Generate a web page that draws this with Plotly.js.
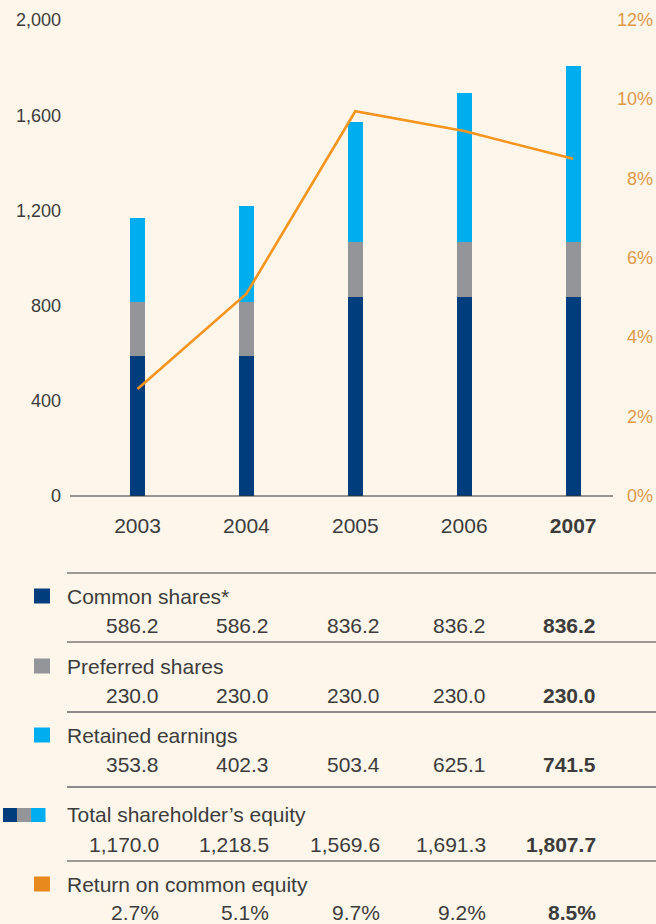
<!DOCTYPE html>
<html>
<head>
<meta charset="utf-8">
<script src="https://cdn.plot.ly/plotly-3.0.1.min.js"></script>
<style>
html,body{margin:0;padding:0;background:#fef6ea;}
#chart{width:656px;height:924px;}
</style>
</head>
<body>
<div id="chart"></div>
<script>
// ---- data ----
var years = ['2003', '2004', '2005', '2006', '2007'];
var boldYear = '2007';
var commonShares = [586.2, 586.2, 836.2, 836.2, 836.2];
var preferredShares = [230.0, 230.0, 230.0, 230.0, 230.0];
var retainedEarnings = [353.8, 402.3, 503.4, 625.1, 741.5];
var totalEquity = [1170.0, 1218.5, 1569.6, 1691.3, 1807.7];
var returnOnEquity = [2.7, 5.1, 9.7, 9.2, 8.5];
var leftTicks = [0, 400, 800, 1200, 1600, 2000];
var rightTicks = [0, 2, 4, 6, 8, 10, 12];
var rowLabels = ['Common shares*', 'Preferred shares', 'Retained earnings', "Total shareholder\u2019s equity", 'Return on common equity'];

// ---- styling ----
var cDark = '#003d7c', cGray = '#939598', cCyan = '#00aeef', cOrange = '#f7941d', cOrangeSq = '#e8891e';
var txt = '#3c3c3c', axisOrange = '#de994c';
var FONT = '"Liberation Sans", Arial, sans-serif';

// pixel -> paper helpers (plot area x 70..656, y 20..496)
var L = 70, W = 586, B = 496, H = 476;
function px(x) { return (x - L) / W; }
function py(p) { return (B - p) / H; }

function fmt(v) { return v.toLocaleString('en-US', {minimumFractionDigits: 1, maximumFractionDigits: 1}); }
function fmtPct(v) { return v.toFixed(1) + '%'; }

var traces = [
  {type: 'bar', x: years, y: commonShares, marker: {color: cDark}, width: 0.138, hoverinfo: 'none'},
  {type: 'bar', x: years, y: preferredShares, marker: {color: cGray}, width: 0.138, hoverinfo: 'none'},
  {type: 'bar', x: years, y: retainedEarnings, marker: {color: cCyan}, width: 0.138, hoverinfo: 'none'},
  {type: 'scatter', mode: 'lines', x: years, y: returnOnEquity, yaxis: 'y2', line: {color: cOrange, width: 2.6}, hoverinfo: 'none'}
];

var shapes = [];
var annotations = [];

// zero axis line
shapes.push({type: 'line', xref: 'paper', yref: 'paper', x0: px(70), x1: px(613), y0: 0, y1: 0, line: {color: '#333333', width: 1.2}});

// table separator lines
var sepY = [573, 642, 712, 787, 861];
var sepC = ['#3a3a3a', '#3a3a3a', '#8c8c8c', '#8c8c8c', '#3a3a3a'];
var sepW = [1.2, 1.2, 1.8, 1.8, 1.2];
for (var i = 0; i < sepY.length; i++) {
  shapes.push({type: 'line', xref: 'paper', yref: 'paper', x0: px(67), x1: px(656), y0: py(sepY[i]), y1: py(sepY[i]), line: {color: sepC[i], width: sepW[i]}});
}

// right axis labels (right-aligned, like the reference)
rightTicks.forEach(function (v) {
  annotations.push({xref: 'paper', yref: 'y2', x: 1, y: v, xanchor: 'right', yanchor: 'middle', xshift: -2, showarrow: false, borderpad: 0,
    text: v + '%', font: {family: FONT, size: 18, color: axisOrange}});
});

// legend squares
var labelY = [596, 666, 735, 815, 884];
var valueY = [625, 695.5, 764, 844, 912];
function sq(x0, x1, yc, h, color) {
  shapes.push({type: 'rect', xref: 'paper', yref: 'paper', x0: px(x0), x1: px(x1), y0: py(yc + h / 2), y1: py(yc - h / 2), fillcolor: color, line: {width: 0}});
}
sq(34, 50, labelY[0], 15, cDark);
sq(34, 50, labelY[1], 15, cGray);
sq(34, 50, labelY[2], 15, cCyan);
sq(3, 17, labelY[3], 14, cDark);
sq(17, 31, labelY[3], 14, cGray);
sq(31, 45.5, labelY[3], 14, cCyan);
sq(34, 50, labelY[4], 15, cOrangeSq);

// table text
var rows = [
  commonShares.map(fmt),
  preferredShares.map(fmt),
  retainedEarnings.map(fmt),
  totalEquity.map(fmt),
  returnOnEquity.map(fmtPct)
];
var colRight = [160, 270, 381, 487, 597];
for (var r = 0; r < rows.length; r++) {
  annotations.push({xref: 'paper', yref: 'paper', x: px(66), y: py(labelY[r]), xanchor: 'left', yanchor: 'middle', showarrow: false, borderpad: 0, text: rowLabels[r], font: {family: FONT, size: 21, color: txt}});
  for (var c = 0; c < years.length; c++) {
    var t = rows[r][c];
    if (years[c] === boldYear) t = '<b>' + t + '</b>';
    annotations.push({xref: 'paper', yref: 'paper', x: px(colRight[c]), y: py(valueY[r]), xanchor: 'right', yanchor: 'middle', showarrow: false, borderpad: 0, text: t, font: {family: FONT, size: 21, color: txt}});
  }
}

var layout = {
  width: 656, height: 924,
  margin: {l: 70, r: 0, t: 20, b: 428, pad: 0},
  paper_bgcolor: '#fef6ea', plot_bgcolor: 'rgba(0,0,0,0)',
  barmode: 'stack',
  showlegend: false,
  font: {family: FONT, color: txt},
  xaxis: {
    type: 'category', range: [-0.62, 4.761],
    tickvals: years,
    ticktext: years.map(function (y) { return y === boldYear ? '<b>' + y + '</b>' : y; }),
    showgrid: false, zeroline: false, showline: false, ticks: '',
    tickfont: {family: FONT, size: 21, color: txt},
    ticklabelstandoff: 15
  },
  yaxis: {
    range: [0, 2000], tickvals: leftTicks, tickformat: ',',
    showgrid: false, zeroline: false, showline: false, ticks: '',
    tickfont: {family: FONT, size: 18, color: txt},
    ticklabelstandoff: 8
  },
  yaxis2: {
    overlaying: 'y', side: 'right', range: [0, 12],
    showgrid: false, zeroline: false, showline: false, ticks: '', showticklabels: false
  },
  shapes: shapes,
  annotations: annotations
};

Plotly.newPlot('chart', traces, layout, {displayModeBar: false, staticPlot: true});
</script>
</body>
</html>
